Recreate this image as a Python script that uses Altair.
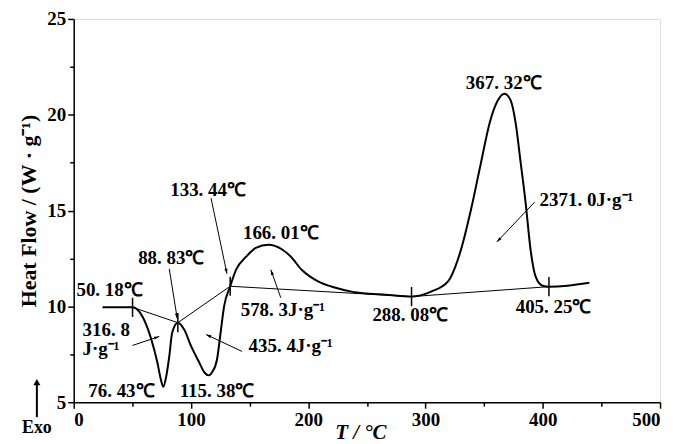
import math
import altair as alt
import pandas as pd

# ---- data ----
curve_T = [24.6, 50.18, 58.6, 66.2, 71.3, 74.7, 76.43, 78.9, 81.5, 84.0, 88.83,
           94.2, 100.2, 107.0, 111.5, 115.38, 118.0, 122.2, 125.6, 128.2, 133.44,
           138.4, 146.9, 155.3, 166.01, 177.4, 185.0, 194.4, 208.8, 223.3, 236.8,
           251.3, 265.7, 288.08, 304.8, 319.2, 321.7, 330.2, 338.7, 347.2, 354.8,
           361.6, 367.32, 372.7, 376.9, 381.2, 385.4, 389.6, 393.9, 399.8, 405.25,
           421.1, 439.7]
curve_HF = [9.95, 9.95, 9.47, 8.27, 7.08, 6.09, 5.80, 6.35, 7.39, 8.64, 9.15,
            8.79, 7.91, 7.08, 6.55, 6.40, 6.56, 7.23, 8.79, 9.99, 11.05,
            11.91, 12.58, 13.05, 13.21, 12.98, 12.6, 11.91, 11.29, 10.97, 10.77,
            10.66, 10.61, 10.51, 10.77, 11.3, 11.55, 12.95, 15.03, 17.47, 19.60,
            20.74, 21.10, 20.74, 19.55, 17.47, 15.39, 12.95, 11.55, 11.08, 11.03,
            11.08, 11.23]

base_T = [50.18, 88.83, 133.44, 288.08, 405.25]
base_HF = [9.95, 9.15, 11.05, 10.51, 11.03]

label_text = ["50. 18℃", "88. 83℃", "133. 44℃", "166. 01℃", "316. 8", "J·g⁻¹",
              "76. 43℃", "115. 38℃", "435. 4J·g⁻¹", "578. 3J·g⁻¹", "367. 32℃",
              "2371. 0J·g⁻¹", "288. 08℃", "405. 25℃"]
label_T = [30.6, 83.2, 114.6, 176.6, 7.6, 7.6, 40.7, 122.2, 185.0, 178.3, 366.7,
           397.3, 287.0, 409.2]
label_HF = [10.87, 12.53, 16.06, 13.83, 8.79, 7.75, 5.57, 5.57, 7.91, 9.83, 21.68,
            15.55, 9.57, 9.99]
label_align = ["center", "center", "center", "center", "left", "left", "center",
               "center", "center", "center", "center", "left", "center", "center"]

arrow_T0 = [117.1, 81.5, 50.1, 143.5, 176.6, 393.0]
arrow_HF0 = [15.65, 11.96, 7.96, 7.65, 10.45, 15.44]
arrow_T1 = [130.7, 88.3, 73.0, 112.9, 168.1, 360.8]
arrow_HF1 = [11.70, 9.36, 8.43, 8.53, 11.91, 13.36]

exo_T = [-31.4]
exo_HF0 = [4.22]
exo_HF1 = [6.0]
exo_head_HF = [6.05]
exo_text_HF = [3.65]

x_ticks = [0, 50, 100, 150, 200, 250, 300, 350, 400, 450, 500]
y_ticks = [5, 7.5, 10, 12.5, 15, 17.5, 20, 22.5, 25]

# ---- layout ----
W, H = 589, 385
XD, YD = [0, 500], [5, 25]
px_x = W / (XD[1] - XD[0])
px_y = H / (YD[1] - YD[0])
FONT = "Liberation Serif"

curve = pd.DataFrame({"T": curve_T, "HF": curve_HF})
base = pd.DataFrame({"T": base_T, "HF": base_HF})
base["lo"] = base["HF"] - 0.5
base["hi"] = base["HF"] + 0.5
labels = pd.DataFrame({"t": label_text, "T": label_T, "HF": label_HF, "al": label_align})
arrows = pd.DataFrame({"T0": arrow_T0, "HF0": arrow_HF0, "T1": arrow_T1, "HF1": arrow_HF1})
arrows["ang"] = [
    (math.degrees(math.atan2((t1 - t0) * px_x, (h1 - h0) * px_y)) + 360) % 360
    for t0, h0, t1, h1 in zip(arrow_T0, arrow_HF0, arrow_T1, arrow_HF1)
]
exo_df = pd.DataFrame({"T": exo_T, "HF0": exo_HF0, "HF1": exo_HF1, "HFh": exo_head_HF,
                       "HFt": exo_text_HF, "t": ["Exo"]})

xs = alt.Scale(domain=XD, nice=False, zero=False)
ys = alt.Scale(domain=YD, nice=False, zero=False)

x_axis = alt.Axis(
    values=x_ticks, title="T / °C", labelExpr="datum.value % 100 === 0 ? datum.label : ''",
    labelOverlap=False, grid=False, domainColor="black", domainWidth=1.5,
    tickColor="black", tickWidth=1.5,
    tickSize={"condition": {"test": "datum.value % 100 === 0", "value": 6}, "value": 4},
    labelFont=FONT, labelFontSize=19, labelFontWeight="bold", labelColor="black",
    labelPadding=2, titleFont=FONT, titleFontSize=21, titleFontWeight="bold",
    titleFontStyle="italic", titleColor="black", titleY=36, titleX=288,
    titleBaseline="alphabetic", titleAlign="center", format="d",
)
y_axis = alt.Axis(
    values=y_ticks, title="Heat Flow / (W · g⁻¹)",
    labelExpr="datum.value % 5 === 0 ? format(datum.value, 'd') : ''",
    labelOverlap=False, grid=False, domainColor="black", domainWidth=1.5,
    tickColor="black", tickWidth=1.5,
    tickSize={"condition": {"test": "datum.value % 5 === 0", "value": 6}, "value": 4},
    labelFont=FONT, labelFontSize=19, labelFontWeight="bold", labelColor="black",
    labelPadding=2, titleFont=FONT, titleFontSize=22, titleFontWeight="bold",
    titleColor="black", titlePadding=6,
)

line = alt.Chart(curve).mark_line(color="black", strokeWidth=2, interpolate="monotone").encode(
    x=alt.X("T:Q", scale=xs, axis=x_axis),
    y=alt.Y("HF:Q", scale=ys, axis=y_axis),
)
bl = alt.Chart(base).mark_line(color="black", strokeWidth=1).encode(
    x=alt.X("T:Q", scale=xs), y=alt.Y("HF:Q", scale=ys))
bt = alt.Chart(base).mark_rule(color="black", strokeWidth=1.5).encode(
    x=alt.X("T:Q", scale=xs), y=alt.Y("lo:Q", scale=ys), y2="hi:Q")
shafts = alt.Chart(arrows).mark_rule(color="black", strokeWidth=1).encode(
    x=alt.X("T0:Q", scale=xs), y=alt.Y("HF0:Q", scale=ys), x2="T1:Q", y2="HF1:Q")
heads = alt.Chart(arrows).mark_point(
    shape="M0,0 L-0.3,1 L0.3,1 Z", filled=True, color="black", opacity=1, size=110
).encode(x=alt.X("T1:Q", scale=xs), y=alt.Y("HF1:Q", scale=ys), angle=alt.Angle("ang:Q", scale=None))

texts = []
for al in ["center", "left"]:
    texts.append(
        alt.Chart(labels).transform_filter(alt.datum.al == al).mark_text(
            font=FONT, fontSize=19, fontWeight="bold", color="black", align=al, baseline="middle"
        ).encode(x=alt.X("T:Q", scale=xs), y=alt.Y("HF:Q", scale=ys), text="t:N")
    )

exo_shaft = alt.Chart(exo_df).mark_rule(color="black", strokeWidth=2).encode(
    x=alt.X("T:Q", scale=xs), y=alt.Y("HF0:Q", scale=ys), y2="HF1:Q")
exo_head = alt.Chart(exo_df).mark_point(
    shape="triangle-up", filled=True, color="black", opacity=1, size=50
).encode(x=alt.X("T:Q", scale=xs), y=alt.Y("HFh:Q", scale=ys))
exo_text = alt.Chart(exo_df).mark_text(
    font=FONT, fontSize=18, fontWeight="bold", color="black", baseline="middle"
).encode(x=alt.X("T:Q", scale=xs), y=alt.Y("HFt:Q", scale=ys), text="t:N")

chart = alt.layer(line, bl, bt, shafts, heads, *texts, exo_shaft, exo_head, exo_text).properties(
    width=W, height=H,
    autosize=alt.AutoSizeParams(type="none"),
    padding={"left": 66, "top": 10, "right": 12, "bottom": 40},
).configure_view(stroke="black", strokeWidth=1.5).configure(background="white")

chart.save("out.html", embed_options={"renderer": "svg", "actions": False})
